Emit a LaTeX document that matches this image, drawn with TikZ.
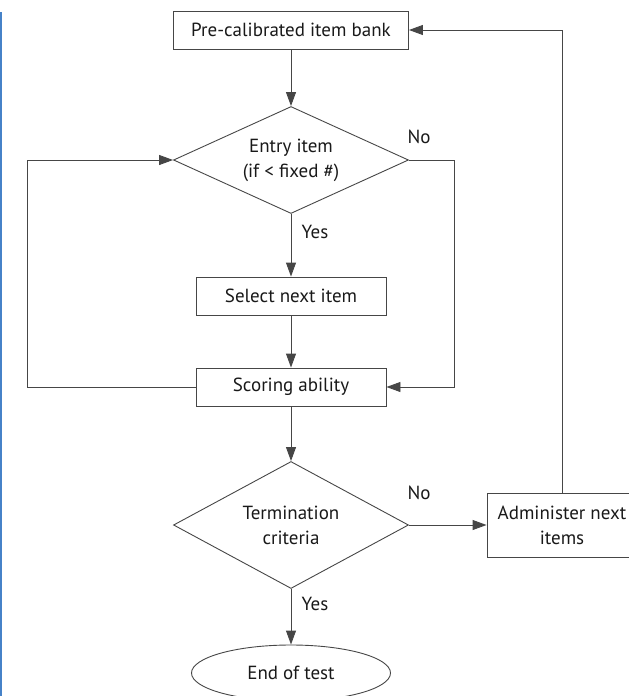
\documentclass[tikz,border=0pt]{standalone}
\usepackage{fontspec}
\setmainfont{PT Sans}
\usetikzlibrary{arrows.meta,shapes.geometric}
\definecolor{edge}{RGB}{70,70,70}
\definecolor{ink}{RGB}{25,25,25}
\definecolor{margin}{RGB}{70,130,200}
\tikzset{
  >={Triangle[length=14pt,width=10pt]},
  txt/.style={text=ink,font=\fontsize{19}{25}\selectfont,align=center},
  box/.style={txt,draw=edge,line width=0.9pt,minimum width=#1,minimum height=38pt,inner sep=2pt},
  box/.default=190pt,
  decision/.style={txt,diamond,draw=edge,line width=0.9pt,inner sep=0pt,minimum width=235pt,minimum height=#1},
  decision/.default=107pt,
  terminal/.style={txt,ellipse,draw=edge,line width=0.9pt,minimum width=199pt,minimum height=56pt},
  flow/.style={->,draw=edge,line width=0.9pt},
  tag/.style={txt,inner sep=0pt},
}
\begin{document}
\begin{tikzpicture}[x=1pt,y=-1pt]
  \useasboundingbox (0,0) rectangle (629,696);
  \draw[margin,line width=2pt] (1,12) -- (1,696);
  % main column
  \node[box=235pt] (bank) at (291,30) {Pre-calibrated item bank};
  \node[decision,aspect=2.3] (entry) at (291,160) {Entry item\\(if < fixed \#)};
  \node[box] (select) at (291,296) {Select next item};
  \node[box] (score) at (291,387) {Scoring ability};
  \node[decision=127pt,aspect=1.9] (term) at (291,525) {Termination\\criteria};
  \node[terminal] (endt) at (291,673) {End of test};
  \node[box=150pt,minimum height=64pt] (admin) at (562,525) {Administer next\\items};
  % labels
  \node[tag] (no1) at (419,137) {No};
  \node[tag] (yes1) at (315,232) {Yes};
  \node[tag] (no2) at (419,493) {No};
  \node[tag] (yes2) at (315,604) {Yes};
  % bends
  \coordinate (skip) at (454,160);
  \coordinate (loop) at (27,387);
  % connectors
  \draw[flow] (bank) -- (entry);
  \draw[flow] (entry) -- (select);
  \draw[flow] (select) -- (score);
  \draw[flow] (entry.east) -- (skip) |- (score.east);
  \draw[flow] (score.west) -- (loop) |- (entry.west);
  \draw[flow] (score) -- (term);
  \draw[flow] (term.east) -- (admin.west);
  \draw[flow] (admin.north) |- (bank.east);
  \draw[flow] (term) -- (endt);
\end{tikzpicture}
\end{document}
